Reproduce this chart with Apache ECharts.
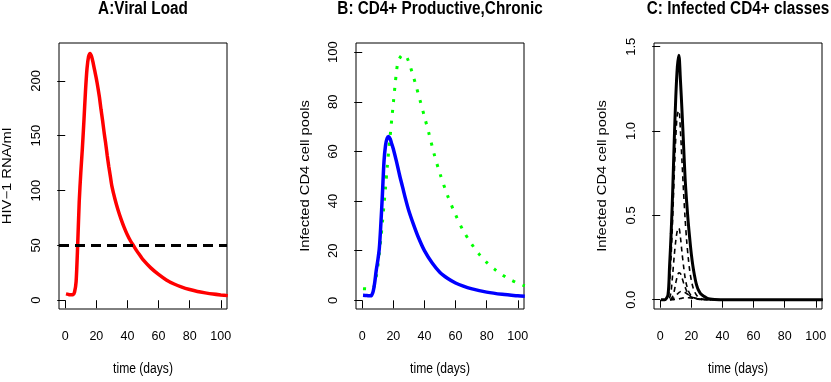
<!DOCTYPE html>
<html>
<head>
<meta charset="utf-8">
<script src="https://cdn.jsdelivr.net/npm/echarts@6/dist/echarts.min.js"></script>
<style>
  html, body { margin: 0; padding: 0; background: #fff; }
  #main { width: 831px; height: 382px; }
</style>
</head>
<body>
<div id="main"></div>
<script>
// panel A: viral load
var daysA = [0.5, 2, 3, 4, 5, 6, 7, 8, 9, 10, 11, 12, 13, 14, 15, 16, 17, 18, 19, 20, 21, 22, 23, 24, 25, 26, 27, 28, 29, 30, 32, 34, 36, 38, 40, 42, 44, 46, 48, 50, 55, 60, 65, 70, 75, 80, 85, 90, 95, 100, 104.5]
var viralLoad = [5.8, 5.3, 5.0, 4.9, 5.0, 7.5, 17, 50, 90, 116, 138, 163, 190, 211, 222, 225, 222, 216, 209, 202, 194, 185, 174, 164, 153, 143, 132, 122, 113, 104, 92, 82, 73.5, 66, 59.5, 54, 49.5, 45, 41, 37, 29.5, 23.5, 18.5, 14.8, 12, 9.8, 8, 6.7, 5.6, 4.8, 4.2]
var threshold = 50

// panel B: productive (blue) and chronic (green dotted)
var daysBlue = [0.5, 3, 5, 6, 7, 8, 9, 10, 11, 12, 13, 14, 15, 16, 17, 18, 19, 20, 22, 24, 26, 28, 30, 33, 36, 40, 45, 50, 55, 60, 65, 70, 80, 90, 100, 104.5]
var productive = [2.0, 1.9, 1.8, 2.0, 3.5, 7, 12, 16, 21, 31, 43, 56, 62.5, 65.3, 66, 65, 63, 61, 56, 50.5, 45.5, 40.5, 36, 30.5, 25.5, 20, 15, 11.2, 8.8, 7.0, 5.7, 4.7, 3.3, 2.4, 1.8, 1.6]
var daysGreen = [0.5, 4, 7, 8, 9, 10, 11, 12, 13, 14, 15, 16, 17, 18, 19, 20, 21, 22, 23, 25, 27, 29, 31, 33, 35, 37, 40, 43, 46, 50, 55, 60, 65, 70, 75, 80, 85, 90, 95, 100, 104.5]
var chronic = [4.7, 4.6, 4.8, 6.5, 9.5, 13.5, 19, 25, 31.5, 38.5, 45.5, 53, 60, 66.5, 73, 79.5, 86, 92, 96, 98.5, 99, 97.5, 94, 90, 85.5, 81, 74, 67, 59.5, 51, 42, 34.5, 28, 23, 18.7, 15.3, 12.6, 10.3, 8.4, 6.9, 5.8]

// panel C: infected CD4+ classes (solid = total, dashed = classes)
var daysC = [0.5, 3, 5, 6, 7, 8, 9, 10, 11, 12, 13, 14, 15, 16, 17, 18, 19, 20, 21, 22, 23, 24, 25, 26, 28, 30, 32, 35, 40, 50, 104.5]
var totalC = [0, 0, 0.03, 0.2, 0.39, 0.64, 0.94, 1.2, 1.38, 1.45, 1.3, 1.12, 0.92, 0.72, 0.58, 0.46, 0.36, 0.27, 0.2, 0.145, 0.1, 0.07, 0.05, 0.035, 0.02, 0.01, 0.005, 0.002, 0, 0, 0]
var class1 = [0, 0, 0.01, 0.1, 0.26, 0.48, 0.74, 0.96, 1.1, 1.12, 1.0, 0.82, 0.64, 0.48, 0.35, 0.25, 0.17, 0.115, 0.075, 0.05, 0.032, 0.02, 0.013, 0.008, 0.003, 0.001, 0, 0, 0, 0, 0]
var class2 = [0, 0, 0, 0.01, 0.05, 0.15, 0.26, 0.35, 0.41, 0.425, 0.37, 0.28, 0.2, 0.13, 0.085, 0.055, 0.036, 0.024, 0.016, 0.011, 0.007, 0.005, 0.003, 0.002, 0.001, 0, 0, 0, 0, 0, 0]
var class3 = [0, 0, 0, 0, 0.005, 0.02, 0.05, 0.1, 0.14, 0.16, 0.155, 0.13, 0.1, 0.075, 0.052, 0.035, 0.024, 0.016, 0.01, 0.007, 0.004, 0.003, 0.002, 0.001, 0, 0, 0, 0, 0, 0, 0]
var class4 = [0, 0, 0, 0, 0, 0.005, 0.012, 0.022, 0.033, 0.042, 0.048, 0.05, 0.048, 0.043, 0.037, 0.03, 0.024, 0.019, 0.014, 0.011, 0.008, 0.006, 0.004, 0.003, 0.0015, 0.0007, 0.0003, 0, 0, 0, 0]
var class5 = [0, 0, 0, 0, 0, 0, 0.001, 0.002, 0.003, 0.005, 0.007, 0.009, 0.011, 0.012, 0.012, 0.012, 0.011, 0.01, 0.009, 0.008, 0.007, 0.006, 0.005, 0.004, 0.003, 0.002, 0.0015, 0.001, 0.0003, 0, 0]

var xTicks = [0, 20, 40, 60, 80, 100]
var yTicksA = [0, 50, 100, 150, 200]
var yTicksB = [0, 20, 40, 60, 80, 100]
var yTicksC = [0, 0.5, 1, 1.5]

var FONT = '"Liberation Sans", Arial, sans-serif'
var STRETCH = 1.22 // the original png was stretched vertically

function pairs (xs, ys) {
  return xs.map(function (x, i) { return [x, ys[i]] })
}

function xAxis (gridIndex) {
  return {
    type: 'value',
    gridIndex: gridIndex,
    min: -4,
    max: 104,
    axisLine: { show: false },
    axisTick: { show: true, length: 8, customValues: xTicks, lineStyle: { color: '#000', width: 1 } },
    axisLabel: { customValues: xTicks, margin: 21, fontFamily: FONT, fontSize: 12.5, color: '#000' },
    splitLine: { show: false }
  }
}

function yAxis (gridIndex, min, max, ticks, fmt) {
  return {
    type: 'value',
    gridIndex: gridIndex,
    min: min,
    max: max,
    axisLine: { show: false },
    axisTick: { show: true, length: 8, customValues: ticks, lineStyle: { color: '#000', width: 1 } },
    axisLabel: { customValues: ticks, rotate: 90, margin: 16, fontFamily: FONT, fontSize: 13, color: '#000', formatter: fmt },
    splitLine: { show: false }
  }
}

// titles and axis names, stretched vertically like the source image
function label (text, x, y, size, bold, vertical) {
  return {
    type: 'text',
    x: x,
    y: y,
    rotation: vertical ? Math.PI / 2 : 0,
    scaleX: vertical ? STRETCH : 1,
    scaleY: vertical ? 1 : STRETCH,
    silent: true,
    style: {
      text: text,
      align: 'center',
      verticalAlign: 'middle',
      fontFamily: FONT,
      fontSize: size,
      fontWeight: bold ? 'bold' : 'normal',
      fill: '#000'
    }
  }
}

var gridBase = { top: 43, height: 266, width: 168, show: true, borderColor: '#000', borderWidth: 1, backgroundColor: 'transparent' }
var dashed = { color: '#000', width: 1.6, type: [5, 4] }

var option = {
  animation: false,
  backgroundColor: '#fff',
  grid: [
    Object.assign({ left: 59 }, gridBase),
    Object.assign({ left: 356 }, gridBase),
    Object.assign({ left: 654 }, gridBase)
  ],
  xAxis: [xAxis(0), xAxis(1), xAxis(2)],
  yAxis: [
    yAxis(0, -8, 234.5, yTicksA),
    yAxis(1, -3.5, 103.7, yTicksB),
    yAxis(2, -0.055, 1.522, yTicksC, function (v) { return v.toFixed(1) })
  ],
  graphic: [
    label('A:Viral Load', 143, 9, 15.3, true),
    label('B: CD4+ Productive,Chronic', 440, 9, 15.3, true),
    label('C: Infected CD4+ classes', 738, 9, 15.3, true),
    label('time (days)', 143, 369, 12.1),
    label('time (days)', 440, 369, 12.1),
    label('time (days)', 738, 369, 12.1),
    label('HIV\u22121 RNA/ml', 8, 176, 12.1, false, true),
    label('Infected CD4 cell pools', 306, 176, 12.1, false, true),
    label('Infected CD4 cell pools', 603, 176, 12.1, false, true)
  ],
  series: [
    {
      type: 'line', xAxisIndex: 0, yAxisIndex: 0, data: pairs(daysA, viralLoad),
      smooth: 0.25, showSymbol: false, lineStyle: { color: '#ff0000', width: 3.5 },
      markLine: {
        silent: true, symbol: 'none', label: { show: false },
        lineStyle: { color: '#000', width: 3, type: [10, 6] },
        data: [{ yAxis: threshold }]
      }
    },
    {
      type: 'line', xAxisIndex: 1, yAxisIndex: 1, data: pairs(daysGreen, chronic),
      smooth: 0.3, showSymbol: false, lineStyle: { color: '#00ff00', width: 3, type: [3, 8], cap: 'butt' }
    },
    {
      type: 'line', xAxisIndex: 1, yAxisIndex: 1, data: pairs(daysBlue, productive),
      smooth: 0.3, showSymbol: false, lineStyle: { color: '#0000ff', width: 3.5 }
    },
    { type: 'line', xAxisIndex: 2, yAxisIndex: 2, data: pairs(daysC, class5), smooth: 0.3, showSymbol: false, lineStyle: dashed },
    { type: 'line', xAxisIndex: 2, yAxisIndex: 2, data: pairs(daysC, class4), smooth: 0.3, showSymbol: false, lineStyle: dashed },
    { type: 'line', xAxisIndex: 2, yAxisIndex: 2, data: pairs(daysC, class3), smooth: 0.3, showSymbol: false, lineStyle: dashed },
    { type: 'line', xAxisIndex: 2, yAxisIndex: 2, data: pairs(daysC, class2), smooth: 0.3, showSymbol: false, lineStyle: dashed },
    { type: 'line', xAxisIndex: 2, yAxisIndex: 2, data: pairs(daysC, class1), smooth: 0.3, showSymbol: false, lineStyle: dashed },
    { type: 'line', xAxisIndex: 2, yAxisIndex: 2, data: pairs(daysC, totalC), smooth: 0.3, showSymbol: false, lineStyle: { color: '#000', width: 3 } }
  ]
}

var chart = echarts.init(document.getElementById('main'))
chart.setOption(option)
</script>
</body>
</html>
